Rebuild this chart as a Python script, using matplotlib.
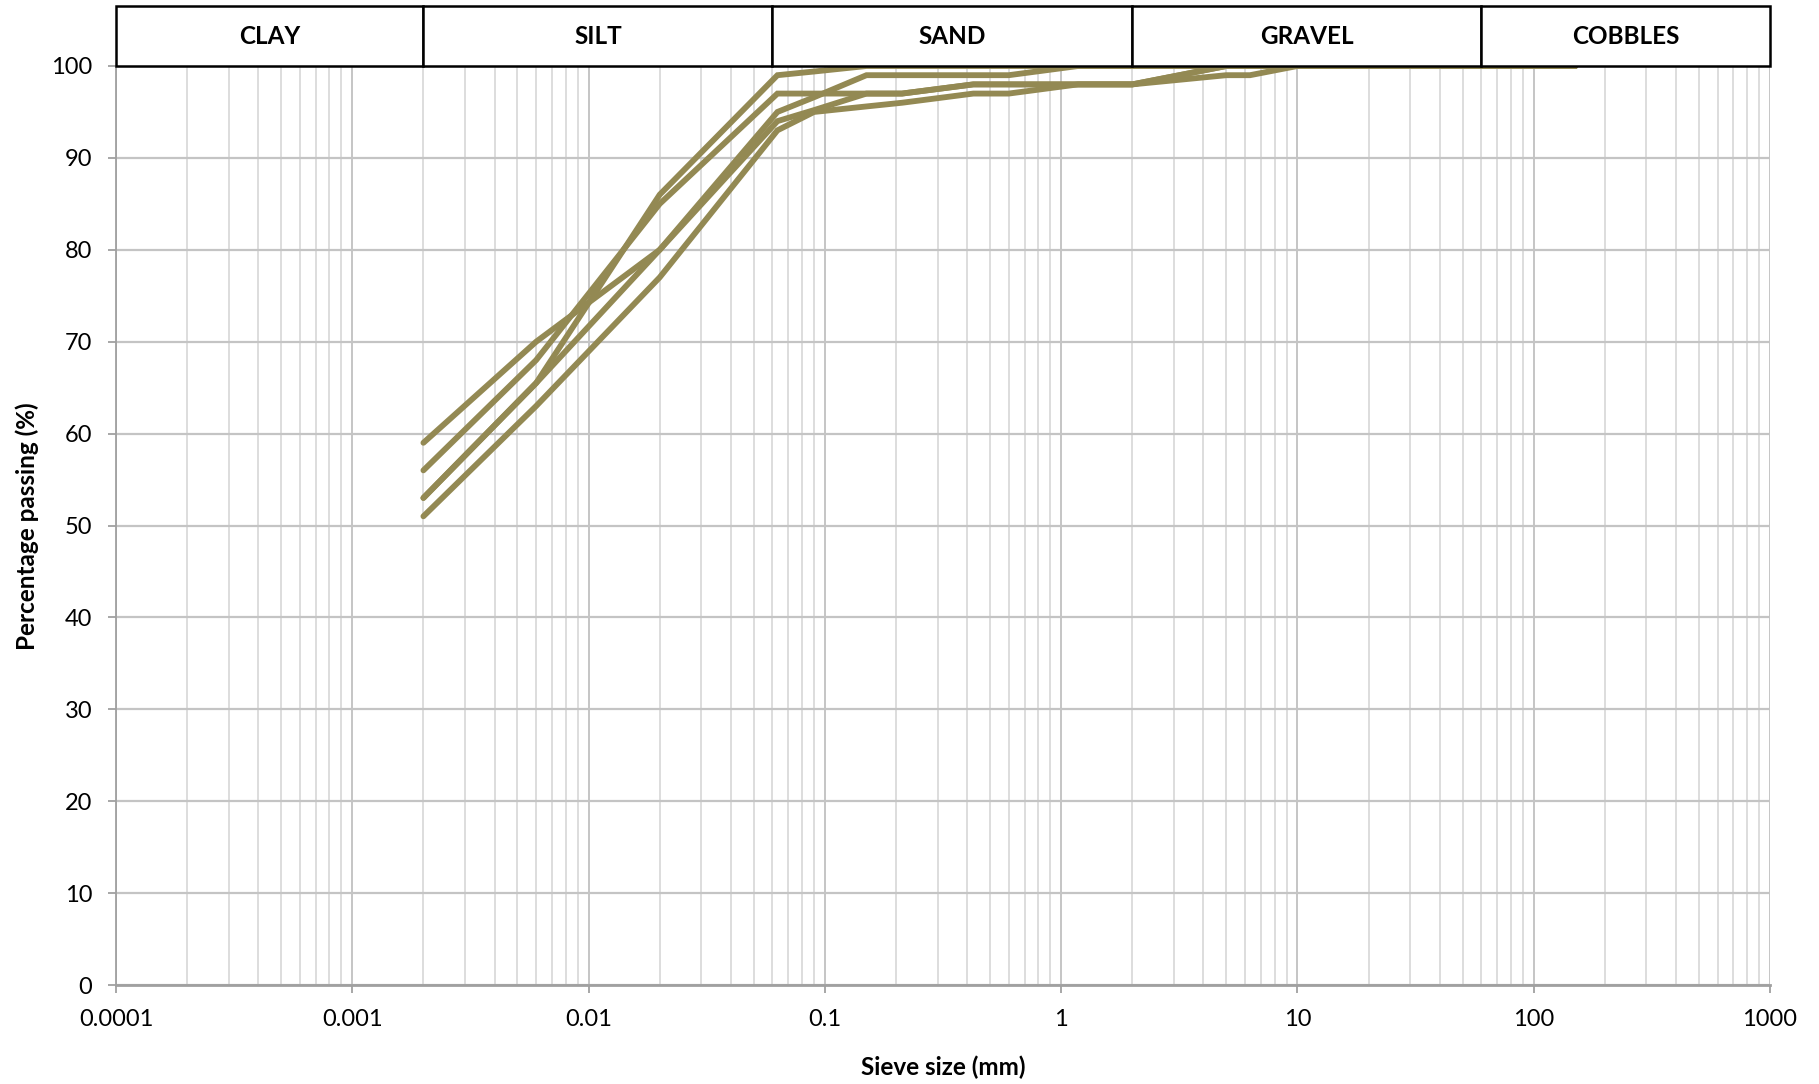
import matplotlib
matplotlib.use("Agg")
import matplotlib.pyplot as plt
from matplotlib.ticker import LogLocator, FixedLocator, NullFormatter, FixedFormatter
import numpy as np

plt.rcParams['font.family'] = ['Lato', 'DejaVu Sans']

# Sieve sizes (mm)
sieve_mm = [0.002, 0.006, 0.02, 0.063, 0.09, 0.15, 0.212, 0.425, 0.6,
            1.18, 2, 5, 6.3, 10, 20, 37.5, 63, 150]

# Percentage passing for each sample
sample_1 = [53, 65.5, 86, 99, 99.4, 100, 100, 100, 100, 100, 100, 100, 100, 100, 100, 100, 100, 100]
sample_2 = [56, 68, 85, 97, 97, 97, 97, 98, 98, 98, 98, 100, 100, 100, 100, 100, 100, 100]
sample_3 = [59, 70, 80, 95, 96.6, 99, 99, 99, 99, 100, 100, 100, 100, 100, 100, 100, 100, 100]
sample_4 = [53, 65.5, 80, 94, 95.2, 97, 97, 98, 98, 98, 98, 100, 100, 100, 100, 100, 100, 100]
sample_5 = [51, 63, 77, 93, 95, 95.6, 96, 97, 97, 98, 98, 99, 99, 100, 100, 100, 100, 100]
samples = [sample_1, sample_2, sample_3, sample_4, sample_5]

# Soil classification bands (mm)
band_names = ["CLAY", "SILT", "SAND", "GRAVEL", "COBBLES"]
band_edges = [0.0001, 0.002, 0.06, 2, 60, 1000]

x_ticks = [0.0001, 0.001, 0.01, 0.1, 1, 10, 100, 1000]
x_tick_labels = ["0.0001", "0.001", "0.01", "0.1", "1", "10", "100", "1000"]
y_ticks = list(range(0, 101, 10))

line_color = "#938953"
W, H = 1819, 1084
fig = plt.figure(figsize=(W / 100, H / 100), dpi=100)

left, right = 116 / W, 1770 / W
ax_bottom, ax_top = 1 - 985 / H, 1 - 66 / H
hdr_top = 1 - 6 / H

ax = fig.add_axes([left, ax_bottom, right - left, ax_top - ax_bottom])
ax.set_xscale("log")
ax.set_xlim(band_edges[0], band_edges[-1])
ax.set_ylim(0, 100)

# grid
ax.xaxis.set_major_locator(FixedLocator(x_ticks))
ax.xaxis.set_major_formatter(FixedFormatter(x_tick_labels))
ax.xaxis.set_minor_locator(LogLocator(base=10, subs=np.arange(2, 10), numticks=20))
ax.xaxis.set_minor_formatter(NullFormatter())
ax.set_yticks(y_ticks)
ax.grid(True, which="major", axis="x", color="#c0c0c0", lw=1.3)
ax.grid(True, which="minor", axis="x", color="#dadada", lw=1.3)
ax.grid(True, which="major", axis="y", color="#c4c4c4", lw=1.6)
ax.set_axisbelow(True)

ax.tick_params(axis="x", which="major", direction="out", length=6, width=1.3,
               color="#a0a0a0", labelsize=17, pad=11)
ax.tick_params(axis="x", which="minor", length=0)
ax.tick_params(axis="y", which="major", direction="out", length=6, width=1.3,
               color="#a0a0a0", labelsize=17, pad=11)

for s in ["top", "right"]:
    ax.spines[s].set_visible(False)
ax.spines["left"].set_color("#a0a0a0")
ax.spines["left"].set_linewidth(1.3)
ax.spines["bottom"].set_color("#a0a0a0")
ax.spines["bottom"].set_linewidth(2.0)

for vals in samples:
    ax.plot(sieve_mm, vals, color=line_color, lw=4.2, solid_capstyle="round",
            solid_joinstyle="miter", zorder=3)

# axis titles
fig.text(943 / W, 1 - 1067 / H, "Sieve size (mm)", ha="center", va="center",
         fontsize=17.5, fontweight="bold")
fig.text(27 / W, 1 - 526 / H, "Percentage passing (%)", ha="center", va="center",
         rotation=90, fontsize=17.5, fontweight="bold")

# classification header
hax = fig.add_axes([left, ax_top, right - left, hdr_top - ax_top])
hax.set_xscale("log")
hax.set_xlim(band_edges[0], band_edges[-1])
hax.set_ylim(0, 1)
hax.axis("off")
for i, name in enumerate(band_names):
    x0, x1 = band_edges[i], band_edges[i + 1]
    hax.add_patch(plt.Rectangle((x0, 0), x1 - x0, 1, facecolor="white",
                                edgecolor="black", lw=1.8, clip_on=False))
    xc = np.sqrt(x0 * x1)
    hax.text(xc, 0.5, name, ha="center", va="center", fontsize=17.5,
             fontweight="bold")

fig.savefig("out.png", dpi=100)
